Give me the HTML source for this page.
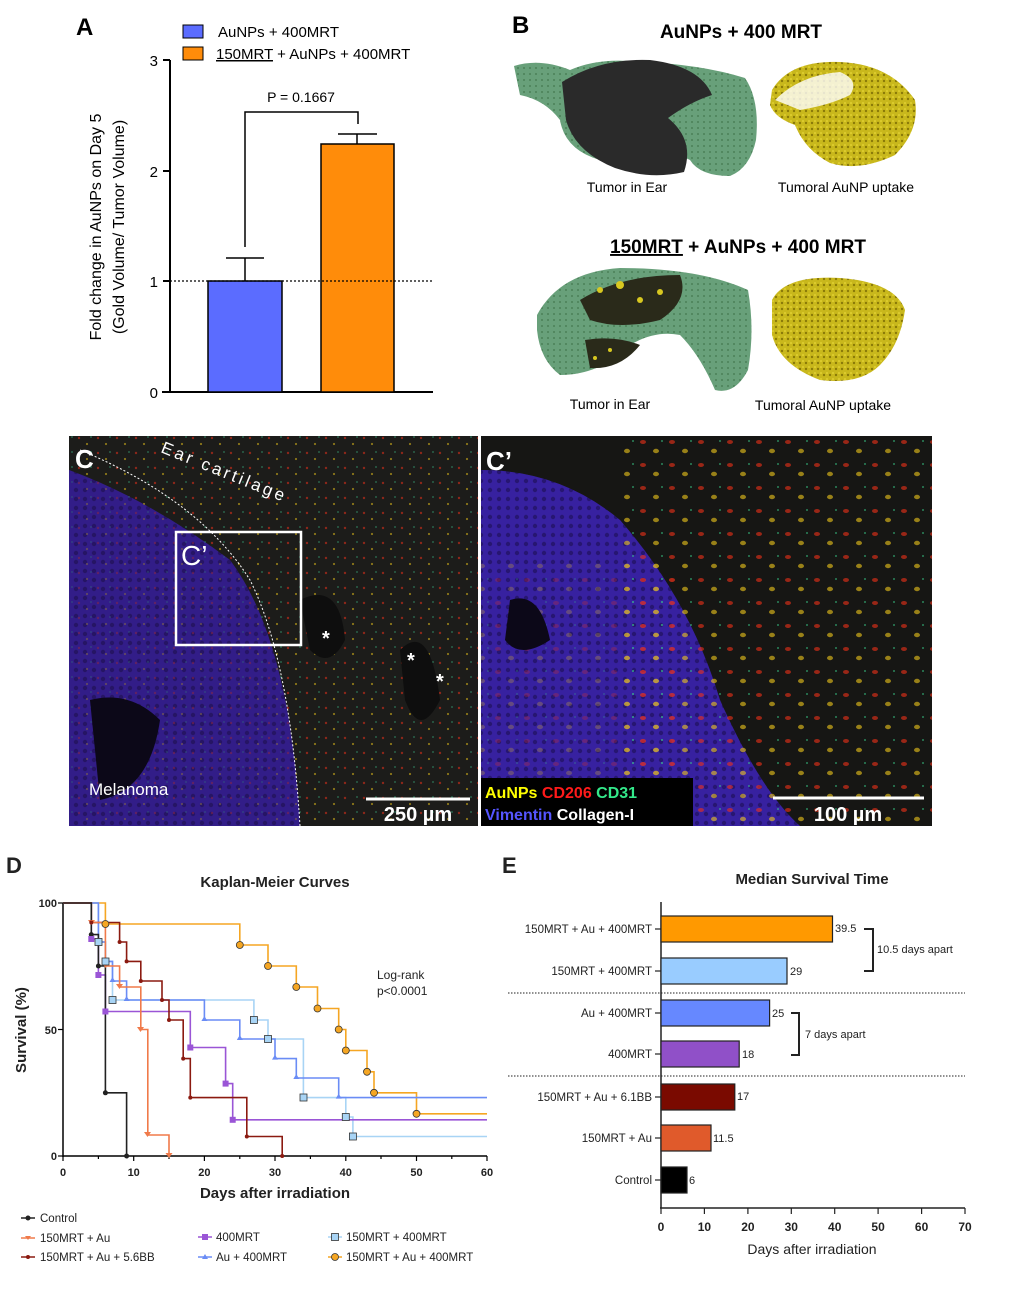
<!DOCTYPE html>
<html><head><meta charset="utf-8"><style>
html,body{margin:0;padding:0;background:#fff;}
svg{display:block;font-family:"Liberation Sans",Arial,sans-serif;}
</style></head><body>
<svg width="1011" height="1300" viewBox="0 0 1011 1300" xmlns="http://www.w3.org/2000/svg">
<defs>
<pattern id="spk" width="19" height="15" patternUnits="userSpaceOnUse">
<circle cx="3" cy="3" r="1.2" fill="#e8301a"/><circle cx="11" cy="9" r="1.1" fill="#e8c21a"/><circle cx="15" cy="2" r="0.9" fill="#3ac08a"/>
</pattern>
<pattern id="spk2" width="29" height="23" patternUnits="userSpaceOnUse">
<ellipse cx="5" cy="5" rx="3" ry="2" fill="#f03018"/><ellipse cx="18" cy="14" rx="3" ry="2.2" fill="#f0c81a"/><circle cx="24" cy="4" r="1" fill="#3ad08a"/>
</pattern>
<pattern id="vio" width="9" height="9" patternUnits="userSpaceOnUse">
<rect width="9" height="9" fill="#3b22a0"/><circle cx="4" cy="4" r="2.2" fill="#22125a"/>
</pattern>
<pattern id="grn" width="6" height="6" patternUnits="userSpaceOnUse">
<rect width="6" height="6" fill="#68a07a"/><circle cx="2" cy="2" r="1" fill="#4a8058"/>
</pattern>
<pattern id="yel" width="6" height="6" patternUnits="userSpaceOnUse">
<rect width="6" height="6" fill="#c9b81c"/><circle cx="2" cy="3" r="1.2" fill="#8a7a08"/><circle cx="5" cy="1" r="0.8" fill="#f0e040"/>
</pattern>
<clipPath id="cl"><rect x="69" y="436" width="409" height="390"/></clipPath>
<clipPath id="cr"><rect x="481" y="436" width="451" height="390"/></clipPath>
</defs>

<!-- ===== Panel A ===== -->
<text x="76" y="35" font-size="24" font-weight="bold">A</text>
<rect x="183" y="25" width="20" height="13" fill="#5b6cff" stroke="#000" stroke-width="1"/>
<text x="218" y="37" font-size="15">AuNPs + 400MRT</text>
<rect x="183" y="47" width="20" height="13" fill="#ff8c0a" stroke="#000" stroke-width="1"/>
<text x="216" y="59" font-size="15"><tspan text-decoration="underline">150MRT</tspan> + AuNPs + 400MRT</text>
<line x1="170" y1="60" x2="170" y2="392" stroke="#000" stroke-width="2"/>
<line x1="162" y1="392" x2="433" y2="392" stroke="#000" stroke-width="2"/>
<g stroke="#000" stroke-width="2"><line x1="163" y1="60" x2="170" y2="60"/><line x1="163" y1="171" x2="170" y2="171"/><line x1="163" y1="281" x2="170" y2="281"/></g>
<g font-size="15" text-anchor="end"><text x="158" y="66">3</text><text x="158" y="177">2</text><text x="158" y="287">1</text><text x="158" y="398">0</text></g>
<rect x="208" y="281" width="74" height="111" fill="#5b6cff" stroke="#000" stroke-width="1.5"/>
<rect x="321" y="144" width="73" height="248" fill="#ff8c0a" stroke="#000" stroke-width="1.5"/>
<line x1="170" y1="281" x2="432" y2="281" stroke="#000" stroke-width="1.2" stroke-dasharray="2,2"/>
<g stroke="#000" stroke-width="1.5" fill="none">
<line x1="245" y1="281" x2="245" y2="258"/><line x1="226" y1="258" x2="264" y2="258"/>
<line x1="357" y1="144" x2="357" y2="134"/><line x1="338" y1="134" x2="377" y2="134"/>
<polyline points="245,247 245,112 358,112 358,124"/>
</g>
<text x="301" y="102" font-size="14" text-anchor="middle">P = 0.1667</text>
<g font-size="16" text-anchor="middle">
<text transform="translate(101,227) rotate(-90)">Fold change in AuNPs on Day 5</text>
<text transform="translate(124,227) rotate(-90)">(Gold Volume/ Tumor Volume)</text>
</g>

<!-- ===== Panel B ===== -->
<text x="512" y="33" font-size="24" font-weight="bold">B</text>
<text x="741" y="38" font-size="19" font-weight="bold" text-anchor="middle">AuNPs + 400 MRT</text>
<path d="M514,66 Q540,58 570,70 Q600,57 640,62 Q700,64 745,78 Q760,100 756,140 Q750,168 730,176 Q700,176 690,160 Q670,150 655,150 Q630,165 600,160 Q565,150 560,120 Q545,100 520,95 Z" fill="url(#grn)"/>
<path d="M562,82 Q600,58 650,60 Q700,66 712,95 Q690,102 668,118 Q695,140 684,172 Q650,180 615,168 Q575,152 566,120 Z" fill="#2a2a2a"/>
<path d="M772,90 Q790,60 840,62 Q890,64 915,100 Q920,130 895,155 Q860,172 830,163 Q805,150 795,125 Q775,118 770,105 Z" fill="url(#yel)"/>
<path d="M775,100 Q800,75 840,72 Q860,80 850,95 Q830,105 800,110 Z" fill="#fff" opacity="0.8"/>
<text x="627" y="192" font-size="14" text-anchor="middle">Tumor in Ear</text>
<text x="846" y="192" font-size="14" text-anchor="middle">Tumoral AuNP uptake</text>
<text x="738" y="253" font-size="19" font-weight="bold" text-anchor="middle"><tspan text-decoration="underline">150MRT</tspan> + AuNPs + 400 MRT</text>
<path d="M537,315 Q560,272 620,268 Q700,268 748,290 Q755,330 748,370 Q735,395 715,390 Q700,355 680,335 Q655,330 630,345 Q600,375 560,375 Q540,360 537,330 Z" fill="url(#grn)"/>
<path d="M580,300 Q620,275 680,275 Q690,300 660,320 Q620,330 590,320 Z" fill="#2a2a1a"/>
<path d="M585,340 Q615,335 640,345 Q620,370 590,368 Z" fill="#2a2a1a"/>
<g fill="#d8c820"><circle cx="600" cy="290" r="3"/><circle cx="620" cy="285" r="4"/><circle cx="640" cy="300" r="3"/><circle cx="660" cy="292" r="3"/><circle cx="610" cy="350" r="2"/><circle cx="595" cy="358" r="2"/></g>
<path d="M772,300 Q785,275 840,278 Q895,282 905,310 Q900,345 880,365 Q860,385 820,380 Q780,365 772,335 Z" fill="url(#yel)"/>
<text x="610" y="409" font-size="14" text-anchor="middle">Tumor in Ear</text>
<text x="823" y="410" font-size="14" text-anchor="middle">Tumoral AuNP uptake</text>

<!-- ===== Panel C ===== -->
<g clip-path="url(#cl)">
<rect x="69" y="436" width="409" height="390" fill="#1c1c1a"/>
<path d="M69,470 Q150,500 230,560 Q290,640 300,826 L69,826 Z" fill="url(#vio)"/>
<rect x="69" y="436" width="409" height="390" fill="url(#spk)" opacity="0.55"/>
<path d="M69,470 Q150,500 230,560 Q290,640 300,826 L69,826 Z" fill="#2a1870" opacity="0.5"/>
<path d="M90,700 Q130,690 160,720 Q150,790 100,800 Z" fill="#0c0818"/>
<path d="M300,600 Q340,580 345,640 Q330,670 310,650 Z" fill="#0e0e0e"/>
<path d="M400,650 Q430,620 440,700 Q420,740 405,700 Z" fill="#0e0e0e"/>
<path d="M80,450 Q200,500 250,580 Q290,660 300,826" fill="none" stroke="#fff" stroke-width="1" stroke-dasharray="2,2"/>
</g>
<rect x="176" y="532" width="125" height="113" fill="none" stroke="#fff" stroke-width="2.5"/>
<text x="75" y="468" font-size="26" font-weight="bold" fill="#fff">C</text>
<text x="181" y="565" font-size="28" fill="#fff">C’</text>
<text x="160" y="452" font-size="17" fill="#fff" letter-spacing="3" transform="rotate(22 160 452)">Ear cartilage</text>
<g fill="#fff" font-size="20" font-weight="bold"><text x="322" y="645">*</text><text x="407" y="667">*</text><text x="436" y="688">*</text></g>
<text x="89" y="795" font-size="17" fill="#fff">Melanoma</text>
<line x1="366" y1="799" x2="470" y2="799" stroke="#fff" stroke-width="3"/>
<text x="418" y="821" font-size="20" font-weight="bold" fill="#fff" text-anchor="middle">250 µm</text>

<g clip-path="url(#cr)">
<rect x="481" y="436" width="451" height="390" fill="#161614"/>
<path d="M481,470 Q560,470 620,520 Q690,600 720,700 Q760,790 800,826 L481,826 Z" fill="url(#vio)"/>
<path d="M481,470 Q560,470 620,520 Q690,600 720,700 Q760,790 800,826 L481,826 Z" fill="#3020a0" opacity="0.35"/>
<rect x="620" y="436" width="312" height="390" fill="url(#spk2)" opacity="0.6"/>
<rect x="481" y="560" width="200" height="266" fill="url(#spk2)" opacity="0.25"/>
<path d="M510,600 Q540,590 550,640 Q520,660 505,640 Z" fill="#0c0818"/>
</g>
<text x="486" y="470" font-size="26" font-weight="bold" fill="#fff">C’</text>
<rect x="481" y="778" width="212" height="48" fill="#000"/>
<text x="485" y="798" font-size="16" font-weight="bold"><tspan fill="#ffff00">AuNPs</tspan> <tspan fill="#ff1a1a">CD206</tspan> <tspan fill="#33e88a">CD31</tspan></text>
<text x="485" y="820" font-size="16" font-weight="bold"><tspan fill="#5555ff">Vimentin</tspan> <tspan fill="#fff">Collagen-I</tspan></text>
<line x1="773" y1="798" x2="924" y2="798" stroke="#fff" stroke-width="3"/>
<text x="848" y="821" font-size="20" font-weight="bold" fill="#fff" text-anchor="middle">100 µm</text>

<!-- ===== Panel D ===== -->
<text x="6" y="873" font-size="22" font-weight="bold" fill="#222">D</text>
<text x="275" y="887" font-size="15" font-weight="bold" text-anchor="middle" fill="#222">Kaplan-Meier Curves</text>
<line x1="63" y1="903" x2="63" y2="1157" stroke="#000" stroke-width="1.5"/>
<line x1="63" y1="1156" x2="487" y2="1156" stroke="#000" stroke-width="1.5"/>
<g stroke="#000" stroke-width="1.2">
<line x1="58" y1="903" x2="63" y2="903"/><line x1="58" y1="1029.5" x2="63" y2="1029.5"/><line x1="58" y1="1156" x2="63" y2="1156"/>
<line x1="63" y1="1156" x2="63" y2="1161"/><line x1="133.7" y1="1156" x2="133.7" y2="1161"/><line x1="204.4" y1="1156" x2="204.4" y2="1161"/><line x1="275" y1="1156" x2="275" y2="1161"/><line x1="345.8" y1="1156" x2="345.8" y2="1161"/><line x1="416.5" y1="1156" x2="416.5" y2="1161"/><line x1="487" y1="1156" x2="487" y2="1161"/>
<line x1="98.4" y1="1156" x2="98.4" y2="1159"/><line x1="169" y1="1156" x2="169" y2="1159"/><line x1="239.8" y1="1156" x2="239.8" y2="1159"/><line x1="310.4" y1="1156" x2="310.4" y2="1159"/><line x1="381" y1="1156" x2="381" y2="1159"/><line x1="451.8" y1="1156" x2="451.8" y2="1159"/>
</g>
<g font-size="11" font-weight="bold" text-anchor="end" fill="#222"><text x="57" y="907">100</text><text x="57" y="1034">50</text><text x="57" y="1160">0</text></g>
<g font-size="11" font-weight="bold" text-anchor="middle" fill="#222"><text x="63" y="1176">0</text><text x="133.7" y="1176">10</text><text x="204.4" y="1176">20</text><text x="275" y="1176">30</text><text x="345.8" y="1176">40</text><text x="416.5" y="1176">50</text><text x="487" y="1176">60</text></g>
<text x="275" y="1198" font-size="15" font-weight="bold" text-anchor="middle" fill="#222">Days after irradiation</text>
<text transform="translate(26,1030) rotate(-90)" font-size="15" font-weight="bold" text-anchor="middle" fill="#222">Survival (%)</text>
<text x="377" y="979" font-size="12" fill="#222">Log-rank</text>
<text x="377" y="995" font-size="12" fill="#222">p&lt;0.0001</text>

<g fill="none" stroke-width="1.6">
<path d="M63,903 H105.4 V924 H239.8 V945 H268 V966 H296.3 V987 H317.5 V1008.5 H338.7 V1029.5 H345.8 V1050.5 H367 V1071.8 H374 V1092.8 H416.5 V1113.8 H487" stroke="#f5a623"/>
<path d="M63,903 H98.4 V942 H105.4 V961.4 H112.5 V1000 H253.9 V1020 H268 V1039 H303.4 V1097.6 H345.8 V1117 H352.9 V1136.5 H487" stroke="#a8d4f5"/>
<path d="M63,903 H98.4 V942 H105.4 V961.4 H112.5 V981 H126.6 V1000 H204.4 V1020 H239.8 V1039 H275 V1058.6 H296.3 V1078 H338.7 V1097.6 H487" stroke="#6a8cf5"/>
<path d="M63,903 H91.3 V939 H98.4 V975 H105.4 V1011.5 H190.3 V1047.5 H225.6 V1083.6 H232.7 V1119.8 H487" stroke="#9a55d6"/>
<path d="M63,903 H91.3 V922.5 H119.6 V942 H126.6 V961.4 H140.8 V981 H162 V1000 H169 V1020 H183.2 V1058.6 H190.3 V1097.6 H246.8 V1136.5 H282.2 V1156" stroke="#8b1a10"/>
<path d="M63,903 H91.3 V922.5 H105.4 V966 H119.6 V987 H140.8 V1029.5 H147.8 V1135 H169 V1156" stroke="#f07a4a"/>
<path d="M63,903 H91.3 V934.6 H98.4 V966 H105.4 V1092.8 H126.6 V1156" stroke="#222"/>
</g>
<g fill="#222"><circle cx="91.3" cy="934.6" r="2.5"/><circle cx="98.4" cy="966" r="2.5"/><circle cx="105.4" cy="1092.8" r="2.5"/><circle cx="126.6" cy="1156" r="2.5"/></g>
<g fill="#f07a4a"><path d="M88,920 h7 l-3.5,5z"/><path d="M102,963 h7 l-3.5,5z"/><path d="M116,984 h7 l-3.5,5z"/><path d="M137,1027 h7 l-3.5,5z"/><path d="M144,1132 h7 l-3.5,5z"/><path d="M165.5,1153 h7 l-3.5,5z"/></g>
<g fill="#8b1a10"><circle cx="91.3" cy="922.5" r="2"/><circle cx="119.6" cy="942" r="2"/><circle cx="126.6" cy="961.4" r="2"/><circle cx="140.8" cy="981" r="2"/><circle cx="162" cy="1000" r="2"/><circle cx="169" cy="1020" r="2"/><circle cx="183.2" cy="1058.6" r="2"/><circle cx="190.3" cy="1097.6" r="2"/><circle cx="246.8" cy="1136.5" r="2"/><circle cx="282.2" cy="1156" r="2"/></g>
<g fill="#9a55d6"><rect x="88.3" y="936" width="6" height="6"/><rect x="95.4" y="972" width="6" height="6"/><rect x="102.4" y="1008.5" width="6" height="6"/><rect x="187.3" y="1044.5" width="6" height="6"/><rect x="222.6" y="1080.6" width="6" height="6"/><rect x="229.7" y="1116.8" width="6" height="6"/></g>
<g fill="#6a8cf5"><path d="M98.4,938 l3,5 h-6z"/><path d="M105.4,957.5 l3,5 h-6z"/><path d="M112.5,977 l3,5 h-6z"/><path d="M126.6,996 l3,5 h-6z"/><path d="M204.4,1016 l3,5 h-6z"/><path d="M239.8,1035 l3,5 h-6z"/><path d="M275,1054.6 l3,5 h-6z"/><path d="M296.3,1074 l3,5 h-6z"/><path d="M338.7,1093.6 l3,5 h-6z"/></g>
<g fill="#a8d4f5" stroke="#333" stroke-width="0.8"><rect x="95" y="938.5" width="7" height="7"/><rect x="102" y="958" width="7" height="7"/><rect x="109" y="996.5" width="7" height="7"/><rect x="250.4" y="1016.5" width="7" height="7"/><rect x="264.5" y="1035.5" width="7" height="7"/><rect x="300" y="1094" width="7" height="7"/><rect x="342.3" y="1113.5" width="7" height="7"/><rect x="349.4" y="1133" width="7" height="7"/></g>
<g fill="#f5a623" stroke="#333" stroke-width="0.8"><circle cx="105.4" cy="924" r="3.5"/><circle cx="239.8" cy="945" r="3.5"/><circle cx="268" cy="966" r="3.5"/><circle cx="296.3" cy="987" r="3.5"/><circle cx="317.5" cy="1008.5" r="3.5"/><circle cx="338.7" cy="1029.5" r="3.5"/><circle cx="345.8" cy="1050.5" r="3.5"/><circle cx="367" cy="1071.8" r="3.5"/><circle cx="374" cy="1092.8" r="3.5"/><circle cx="416.5" cy="1113.8" r="3.5"/></g>
<g font-size="11.5" fill="#222">
<line x1="21" y1="1218" x2="35" y2="1218" stroke="#222" stroke-width="1.5"/><circle cx="28" cy="1218" r="2.5" fill="#222"/><text x="40" y="1222">Control</text>
<line x1="21" y1="1238" x2="35" y2="1238" stroke="#f07a4a" stroke-width="1.5"/><path d="M25,1236 h6 l-3,4z" fill="#f07a4a"/><text x="40" y="1242">150MRT + Au</text>
<line x1="21" y1="1257" x2="35" y2="1257" stroke="#8b1a10" stroke-width="1.5"/><circle cx="28" cy="1257" r="2" fill="#8b1a10"/><text x="40" y="1261">150MRT + Au + 5.6BB</text>
<line x1="198" y1="1237" x2="212" y2="1237" stroke="#9a55d6" stroke-width="1.5"/><rect x="202" y="1234" width="6" height="6" fill="#9a55d6"/><text x="216" y="1241">400MRT</text>
<line x1="198" y1="1257" x2="212" y2="1257" stroke="#6a8cf5" stroke-width="1.5"/><path d="M205,1254 l3,5 h-6z" fill="#6a8cf5"/><text x="216" y="1261">Au + 400MRT</text>
<line x1="328" y1="1237" x2="342" y2="1237" stroke="#a8d4f5" stroke-width="1.5"/><rect x="331.5" y="1233.5" width="7" height="7" fill="#a8d4f5" stroke="#333" stroke-width="0.8"/><text x="346" y="1241">150MRT + 400MRT</text>
<line x1="328" y1="1257" x2="342" y2="1257" stroke="#f5a623" stroke-width="1.5"/><circle cx="335" cy="1257" r="3.5" fill="#f5a623" stroke="#333" stroke-width="0.8"/><text x="346" y="1261">150MRT + Au + 400MRT</text>
</g>

<!-- ===== Panel E ===== -->
<text x="502" y="873" font-size="22" font-weight="bold" fill="#222">E</text>
<text x="812" y="884" font-size="15" font-weight="bold" text-anchor="middle" fill="#222">Median Survival Time</text>
<line x1="661" y1="902" x2="661" y2="1208" stroke="#222" stroke-width="1.5"/>
<line x1="660" y1="1208" x2="965" y2="1208" stroke="#222" stroke-width="1.5"/>
<g stroke="#222" stroke-width="1.2">
<line x1="661" y1="1208" x2="661" y2="1214"/><line x1="704.4" y1="1208" x2="704.4" y2="1214"/><line x1="747.9" y1="1208" x2="747.9" y2="1214"/><line x1="791.3" y1="1208" x2="791.3" y2="1214"/><line x1="834.7" y1="1208" x2="834.7" y2="1214"/><line x1="878.1" y1="1208" x2="878.1" y2="1214"/><line x1="921.6" y1="1208" x2="921.6" y2="1214"/><line x1="965" y1="1208" x2="965" y2="1214"/>
<line x1="655" y1="929" x2="661" y2="929"/><line x1="655" y1="971" x2="661" y2="971"/><line x1="655" y1="1013" x2="661" y2="1013"/><line x1="655" y1="1054" x2="661" y2="1054"/><line x1="655" y1="1097" x2="661" y2="1097"/><line x1="655" y1="1138" x2="661" y2="1138"/><line x1="655" y1="1180" x2="661" y2="1180"/>
</g>
<g font-size="12" font-weight="bold" text-anchor="middle" fill="#222"><text x="661" y="1231">0</text><text x="704.4" y="1231">10</text><text x="747.9" y="1231">20</text><text x="791.3" y="1231">30</text><text x="834.7" y="1231">40</text><text x="878.1" y="1231">50</text><text x="921.6" y="1231">60</text><text x="965" y="1231">70</text></g>
<text x="812" y="1254" font-size="14" text-anchor="middle" fill="#222">Days after irradiation</text>
<g font-size="11.5" text-anchor="end" fill="#222">
<text x="652" y="933">150MRT + Au + 400MRT</text><text x="652" y="975">150MRT + 400MRT</text><text x="652" y="1017">Au + 400MRT</text><text x="652" y="1058">400MRT</text><text x="652" y="1101">150MRT + Au + 6.1BB</text><text x="652" y="1142">150MRT + Au</text><text x="652" y="1184">Control</text>
</g>
<g stroke="#222" stroke-width="1.2">
<rect x="661" y="916" width="171.5" height="26" fill="#ff9900"/>
<rect x="661" y="958" width="126" height="26" fill="#99ccff"/>
<rect x="661" y="1000" width="108.6" height="26" fill="#6688ff"/>
<rect x="661" y="1041" width="78.2" height="26" fill="#9050c8"/>
<rect x="661" y="1084" width="73.8" height="26" fill="#7a0a00"/>
<rect x="661" y="1125" width="50" height="26" fill="#e05a2b"/>
<rect x="661" y="1167" width="26" height="26" fill="#000"/>
</g>
<g font-size="11" fill="#222">
<text x="835" y="932">39.5</text><text x="790" y="975">29</text><text x="772" y="1017">25</text><text x="742" y="1058">18</text><text x="737" y="1100">17</text><text x="713" y="1142">11.5</text><text x="689" y="1184">6</text>
</g>
<line x1="508" y1="993" x2="965" y2="993" stroke="#222" stroke-width="1" stroke-dasharray="1.5,1.5"/>
<line x1="508" y1="1076" x2="965" y2="1076" stroke="#222" stroke-width="1" stroke-dasharray="1.5,1.5"/>
<polyline points="864,929 873,929 873,971 864,971" fill="none" stroke="#222" stroke-width="2"/>
<text x="877" y="953" font-size="11" fill="#222">10.5 days apart</text>
<polyline points="791,1013 799,1013 799,1055 791,1055" fill="none" stroke="#222" stroke-width="2"/>
<text x="805" y="1038" font-size="11" fill="#222">7 days apart</text>
</svg>
</body></html>
